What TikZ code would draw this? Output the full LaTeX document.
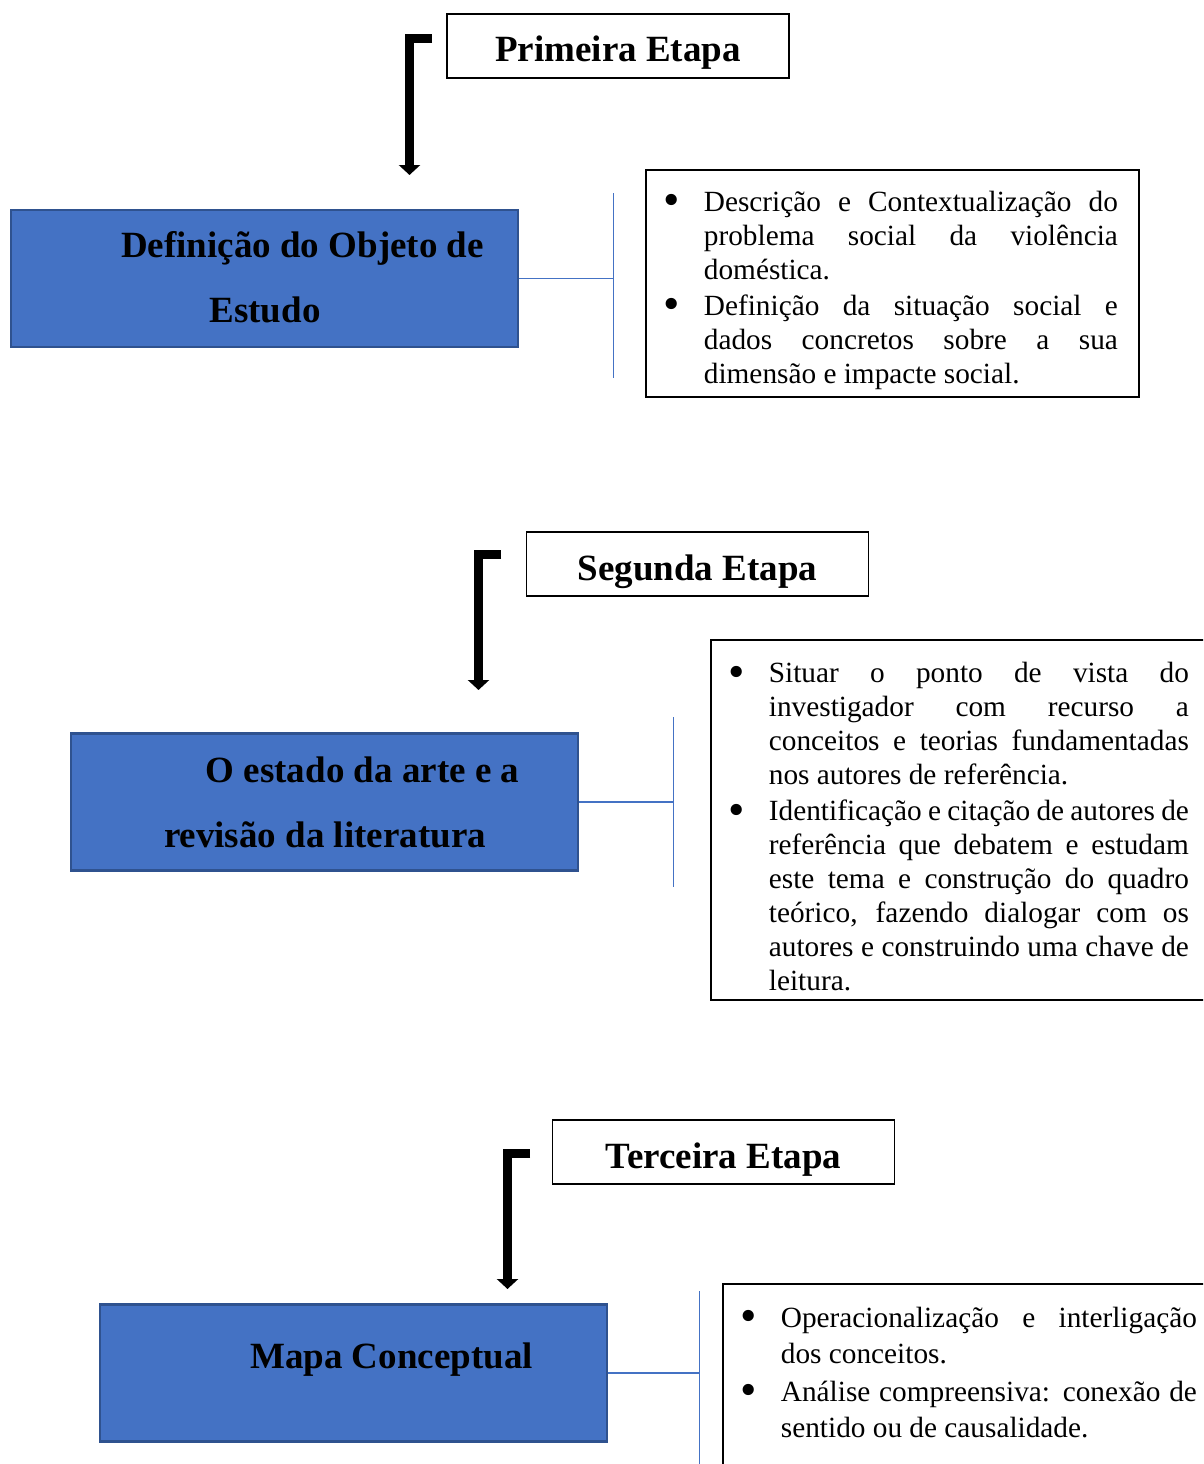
\documentclass[tikz,border=0pt]{standalone}
\usepackage{fontspec}
\setmainfont{Liberation Serif}
\usepackage{graphicx}
\usepackage{enumitem}
\usetikzlibrary{arrows.meta}

\definecolor{boxblue}{HTML}{4472C4}
\definecolor{boxedge}{HTML}{2F528F}

\newcommand{\headfont}{\fontsize{37}{44}\selectfont\bfseries}
\newcommand{\notesfont}{\fontsize{29.3}{34}\selectfont}
\newcommand{\bigbullet}{\raisebox{-4.5pt}{\scalebox{1.6}{\textbullet}}}

\setlist[itemize]{label=\bigbullet, leftmargin=37pt, labelsep=24pt, itemsep=2pt,
  topsep=0pt, partopsep=0pt, parsep=0pt}

\tikzstyle{etapa}=[draw=black, line width=1.8pt, minimum width=342pt, minimum height=64pt, inner sep=0pt, text height=32pt, text depth=0pt, font=\headfont]
\tikzstyle{bluebox}=[draw=boxedge, fill=boxblue, line width=2.5pt, minimum width=507pt, minimum height=137pt, inner sep=0pt]
\tikzstyle{boxlabel}=[anchor=base, inner sep=0pt, font=\headfont]
\tikzstyle{notes}=[draw=black, line width=1.8pt, anchor=north west, inner xsep=21pt, inner ysep=7.5pt, align=justify, font=\notesfont]
\tikzstyle{link}=[draw=boxblue, line width=1.5pt]
\tikzstyle{down}=[line width=9pt, -{Triangle[width=21pt,length=10pt]}]

\begin{document}
\begin{tikzpicture}[x=1pt, y=-1pt]
  \useasboundingbox (0,0) rectangle (1203,1464);
  \clip (0,0) rectangle (1203,1464);
  \tolerance=9999 \hyphenpenalty=10000

  % primeira etapa
  \node[etapa] (prim) at (618,46) {Primeira Etapa};
  \coordinate (a1) at (432,38.5);
  \coordinate (a1e) at (409.5,175);
  \draw[down] (a1) -| (a1e);

  \node[bluebox] (def) at (264.5,278.5) {};
  \node[boxlabel] (defA) at (302.5,257) {Definição do Objeto de};
  \node[boxlabel] (defB) at (265,322) {Estudo};

  \coordinate (v1a) at (613.5,193);
  \coordinate (v1b) at (613.5,378);
  \draw[link] (def.east) -- (def.east -| v1a);
  \draw[link] (v1a) -- (v1b);

  \node[notes, text width=451pt] (n1) at (645,169) {%
    \begin{itemize}
      \item Descrição e Contextualização do\linebreak problema social da violência\linebreak doméstica.
      \item Definição da situação social e\linebreak dados concretos sobre a sua\linebreak dimensão e impacte social.
    \end{itemize}};

  % segunda etapa
  \node[etapa] (seg) at (697.5,564) {Segunda Etapa};
  \coordinate (a2) at (501,554);
  \coordinate (a2e) at (478.5,690);
  \draw[down] (a2) -| (a2e);

  \node[bluebox] (arte) at (324.5,802) {};
  \node[boxlabel] (arteA) at (362.5,782) {O estado da arte e a};
  \node[boxlabel] (arteB) at (325,847) {revisão da literatura};

  \coordinate (v2a) at (673.5,717);
  \coordinate (v2b) at (673.5,887);
  \draw[link] (arte.east) -- (arte.east -| v2a);
  \draw[link] (v2a) -- (v2b);

  \node[notes, text width=457pt, inner ysep=9pt] (n2) at (710,639) {%
    \begin{itemize}
      \item Situar o ponto de vista do\linebreak investigador com recurso a\linebreak conceitos e teorias fundamentadas\linebreak nos autores de referência.
      \item Identificação e citação de autores de\linebreak referência que debatem e estudam\linebreak este tema e construção do quadro\linebreak teórico, fazendo dialogar com os\linebreak autores e construindo uma chave de\linebreak leitura.
    \end{itemize}};

  % terceira etapa
  \node[etapa] (ter) at (723.5,1152) {Terceira Etapa};
  \coordinate (a3) at (530,1153);
  \coordinate (a3e) at (507.5,1289);
  \draw[down] (a3) -| (a3e);

  \node[bluebox] (mapa) at (353.5,1373) {};
  \node[boxlabel] (mapaA) at (391.5,1368) {Mapa Conceptual};

  \coordinate (v3a) at (699.5,1291);
  \coordinate (v3b) at (699.5,1480);
  \draw[link] (mapa.east) -- (mapa.east -| v3a);
  \draw[link] (v3a) -- (v3b);

  \node[notes, text width=453pt, font=\fontsize{29.3}{36}\selectfont] (n3) at (722,1283) {%
    \begin{itemize}
      \item Operacionalização e interligação\linebreak dos conceitos.
      \item Análise compreensiva: conexão de\linebreak sentido ou de causalidade.
    \end{itemize}\par\noindent\mbox{}};
\end{tikzpicture}
\end{document}
